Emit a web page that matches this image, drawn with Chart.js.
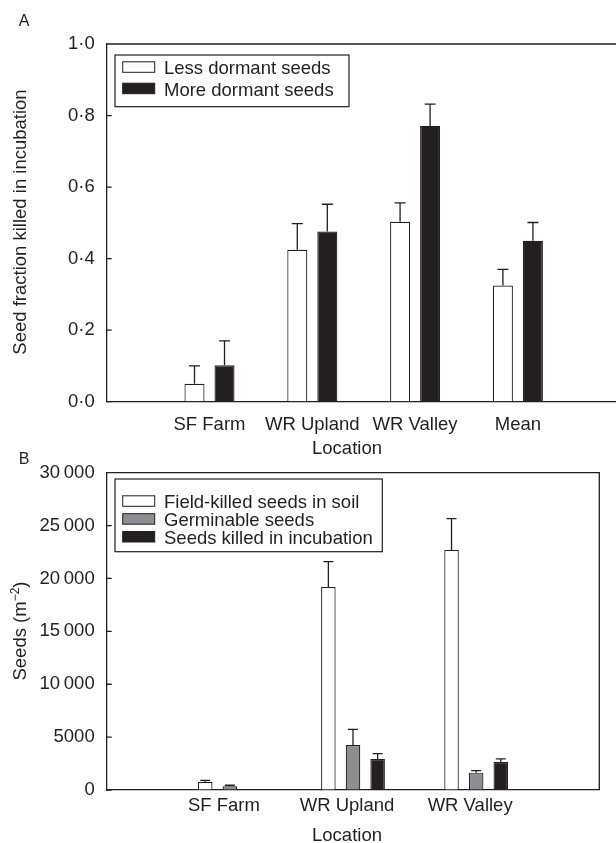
<!DOCTYPE html>
<html lang="en">
<head>
<meta charset="UTF-8">
<title>Seeds killed in incubation by location</title>
<script src="https://cdn.jsdelivr.net/npm/chart.js@4.4.1/dist/chart.umd.min.js"></script>
<style>
    html, body { margin: 0; padding: 0; background: #fff; overflow: hidden; }
    body { width: 616px; height: 843px; position: relative; font-family: "Liberation Sans", Arial, sans-serif; color: #231f20; }
    .box { position: absolute; left: 0; }
    .lbl { position: absolute; line-height: 1; white-space: nowrap; transform: translate(-50%, -50%); font-size: 18.5px; }
    .rot { transform: translate(-50%, -50%) rotate(-90deg); }
    sup { font-size: 12px; line-height: 0; }
</style>
</head>
<body>
<!-- panel A is wider than the window: its right edge is cut off like in the print -->
<div class="box" style="top:0;width:622px;height:440px"><canvas id="chartA" width="622" height="440"></canvas></div>
<div class="box" style="top:440px;width:616px;height:403px"><canvas id="chartB" width="616" height="403"></canvas></div>

<!-- panel letters and axis titles -->
<div class="lbl" style="left:24px;top:21px;font-size:16px">A</div>
<div class="lbl" style="left:24px;top:459px;font-size:16px">B</div>
<div class="lbl rot" style="left:20px;top:222px">Seed fraction killed in incubation</div>
<div class="lbl rot" style="left:20px;top:631px">Seeds (m<sup>−2</sup>)</div>
<div class="lbl" style="left:347px;top:448px">Location</div>
<div class="lbl" style="left:347px;top:835px">Location</div>

<script>
    // ---- data, panel A ----
    const categoriesA = ['SF Farm', 'WR Upland', 'WR Valley', 'Mean'];
    const lessDormant = [0.05, 0.425, 0.503, 0.325];
    const lessDormantErr = [0.05, 0.073, 0.053, 0.045];
    const moreDormant = [0.102, 0.476, 0.771, 0.450];
    const moreDormantErr = [0.068, 0.076, 0.061, 0.051];

    // ---- data, panel B ----
    const categoriesB = ['SF Farm', 'WR Upland', 'WR Valley'];
    const fieldKilled = [760, 19200, 22700];
    const fieldKilledErr = [150, 2400, 2950];
    const germinable = [350, 4250, 1640];
    const germinableErr = [100, 1480, 190];
    const killedIncub = [null, 2930, 2650];
    const killedIncubErr = [0, 500, 285];

    const ink = '#231f20';
    const grey = '#8d8e91';
    Chart.defaults.font.family = '"Liberation Sans", Arial, sans-serif';
    Chart.defaults.font.size = 18.5;
    Chart.defaults.color = ink;

    // top/right frame + inward y ticks
    const frame = {
        id: 'frame',
        afterDraw(chart) {
            const {ctx, chartArea: a, scales: {y}} = chart;
            ctx.save();
            ctx.strokeStyle = ink;
            ctx.lineWidth = 1.3;
            ctx.beginPath();
            ctx.moveTo(a.left, a.top);
            ctx.lineTo(a.right, a.top);
            ctx.lineTo(a.right, a.bottom);
            y.ticks.forEach(t => {
                const py = y.getPixelForValue(t.value);
                ctx.moveTo(a.left, py);
                ctx.lineTo(a.left + 5, py);
            });
            ctx.stroke();
            ctx.restore();
        }
    };

    // upper half error bars with cap
    const errorBars = {
        id: 'errorBars',
        afterDatasetsDraw(chart, args, opts) {
            const {ctx, scales: {y}} = chart;
            ctx.save();
            ctx.strokeStyle = ink;
            ctx.lineWidth = 1.3;
            chart.data.datasets.forEach((ds, d) => {
                chart.getDatasetMeta(d).data.forEach((bar, i) => {
                    const v = ds.data[i], e = ds.errors[i];
                    if (v == null || !e) return;
                    const top = y.getPixelForValue(v + e);
                    ctx.beginPath();
                    ctx.moveTo(bar.x, bar.y);
                    ctx.lineTo(bar.x, top);
                    ctx.moveTo(bar.x - opts.cap / 2, top);
                    ctx.lineTo(bar.x + opts.cap / 2, top);
                    ctx.stroke();
                });
            });
            ctx.restore();
        }
    };

    // boxed legend like the journal figure
    const boxLegend = {
        id: 'boxLegend',
        afterDraw(chart, args, o) {
            const ctx = chart.ctx;
            const [x1, y1, x2, y2] = o.box;
            ctx.save();
            ctx.strokeStyle = ink;
            ctx.lineWidth = 1.2;
            ctx.strokeRect(x1, y1, x2 - x1, y2 - y1);
            ctx.font = '18.5px "Liberation Sans", Arial, sans-serif';
            ctx.textBaseline = 'alphabetic';
            chart.data.datasets.forEach((ds, i) => {
                const base = o.rows[i];
                ctx.fillStyle = ds.backgroundColor;
                ctx.fillRect(o.swatchX, base - 12.5, 32, 10.5);
                ctx.lineWidth = 1;
                ctx.strokeRect(o.swatchX, base - 12.5, 32, 10.5);
                ctx.fillStyle = ink;
                ctx.fillText(ds.label, o.textX, base);
            });
            ctx.restore();
        }
    };

    function barSet(label, data, errors, color) {
        return {
            label: label,
            data: data,
            errors: errors,
            backgroundColor: color,
            borderColor: ink,
            borderWidth: 1.2
        };
    }

    function axisOpts(extra) {
        return Object.assign({
            grid: {display: true, drawOnChartArea: false, drawTicks: false},
            border: {display: true, color: ink, width: 1.3}
        }, extra);
    }

    // fixed axis boxes; drop the side padding Chart.js adds for tick labels
    function fixX(h) {
        return s => { s.height = h; s.paddingLeft = 0; s.paddingRight = 0; };
    }
    function fixY(w) {
        return s => { s.width = w; };
    }

    // ---- panel A ----
    new Chart(document.getElementById('chartA'), {
        type: 'bar',
        data: {
            labels: categoriesA.map((c, i) => i + 1),
            datasets: [
                barSet('Less dormant seeds', lessDormant, lessDormantErr, '#ffffff'),
                barSet('More dormant seeds', moreDormant, moreDormantErr, ink)
            ]
        },
        options: {
            responsive: false,
            animation: false,
            categoryPercentage: 0.584,
            barPercentage: 0.667,
            layout: {padding: {top: 44, right: 1.3, bottom: 0, left: 0}},
            plugins: {
                legend: {display: false},
                tooltip: {enabled: false},
                errorBars: {cap: 11},
                boxLegend: {box: [115, 55, 349, 106.7], rows: [74.3, 95.7], swatchX: 122.7, textX: 164}
            },
            scales: {
                x: axisOpts({
                    type: 'linear', min: 0, max: 5, offset: false,
                    ticks: {stepSize: 1, autoSkip: false, maxRotation: 0, padding: 12,
                        callback: v => categoriesA[v - 1] || ''},
                    afterFit: fixX(38.3)
                }),
                y: axisOpts({
                    min: 0, max: 1,
                    ticks: {stepSize: 0.2, padding: 12,
                        callback: v => v.toFixed(1).replace('.', '\u00b7')},
                    afterFit: fixY(106.7)
                })
            }
        },
        plugins: [frame, errorBars, boxLegend]
    });

    // ---- panel B ----
    new Chart(document.getElementById('chartB'), {
        type: 'bar',
        data: {
            labels: categoriesB.map((c, i) => i + 1),
            datasets: [
                barSet('Field-killed seeds in soil', fieldKilled, fieldKilledErr, '#ffffff'),
                barSet('Germinable seeds', germinable, germinableErr, grey),
                barSet('Seeds killed in incubation', killedIncub, killedIncubErr, ink)
            ]
        },
        options: {
            responsive: false,
            animation: false,
            categoryPercentage: 0.6,
            barPercentage: 0.59,
            layout: {padding: {top: 32.7, right: 16.7, bottom: 0, left: 0}},
            plugins: {
                legend: {display: false},
                tooltip: {enabled: false},
                errorBars: {cap: 10},
                boxLegend: {box: [115, 39, 382.3, 111.7], rows: [68.3, 86.2, 104], swatchX: 122.7, textX: 164}
            },
            scales: {
                x: axisOpts({
                    type: 'linear', min: 0, max: 4, offset: false,
                    ticks: {stepSize: 1, autoSkip: false, maxRotation: 0, padding: 5, labelOffset: -6,
                        callback: v => categoriesB[v - 1] || ''},
                    afterFit: fixX(53)
                }),
                y: axisOpts({
                    min: 0, max: 30000,
                    ticks: {stepSize: 5000, padding: 12,
                        callback: v => v >= 10000 ? String(v).replace(/(\d{3})$/, '\u2009$1') : String(v)},
                    afterFit: fixY(106.7)
                })
            }
        },
        plugins: [frame, errorBars, boxLegend]
    });
</script>
</body>
</html>
